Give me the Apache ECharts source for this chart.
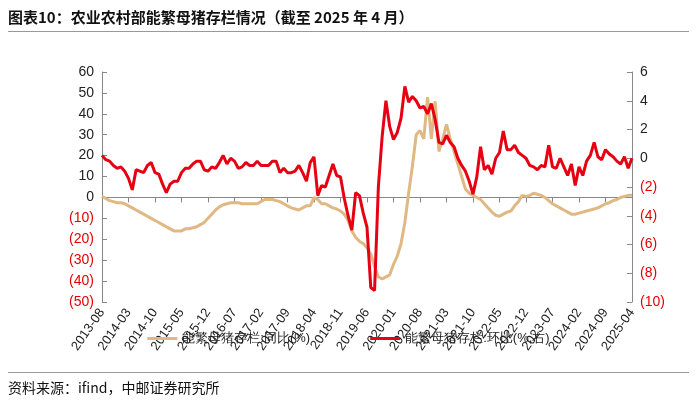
<!DOCTYPE html>
<html><head><meta charset="utf-8">
<script src="https://cdn.jsdelivr.net/npm/echarts@6/dist/echarts.min.js"></script>
<style>
body{margin:0;background:#fff;font-family:"Noto Sans CJK SC",sans-serif}
#title{position:absolute;left:8px;top:6px;font-size:15px;font-weight:bold;color:#111;width:681px;border-bottom:1px solid #999;padding-bottom:4px}
#src{position:absolute;left:8px;top:372px;font-size:14px;color:#111;width:681px;border-top:1px solid #999;padding-top:4px}
#main{position:absolute;left:0;top:0;width:697px;height:402px}
</style></head><body>
<div id="main"></div>
<div id="title">图表10：农业农村部能繁母猪存栏情况（截至 2025 年 4 月）</div>
<div id="src">资料来源：ifind，中邮证券研究所</div>
<script>
// 月份 2013-08 ~ 2025-04
var months = [];
for (var y = 2013, m = 8; y < 2025 || (y === 2025 && m <= 4); m++) {
	if (m > 12) { m = 1; y++; }
	if (y === 2025 && m > 4) break;
	months.push(y + '-' + (m < 10 ? '0' + m : m));
}
// 同比(%)，左轴
var yoy = [
	0.5,-0.5,-1.5,-2,-2.5,
	-2.5,-3,-4,-5,-6,-7,-8,-9,-10,-11,-12,-13,
	-14,-15,-16,-16,-16,-15,-15,-14.5,-14,-13,-12,-10,
	-8,-6,-4.5,-3.5,-3,-2.5,-2.5,-2.5,-3,-3,-3,-3,
	-3,-2,-1,-1,-1,-1.5,-2,-3,-4,-5,-5.5,-6,
	-5,-4,-4,0,-1,-3,-3,-4,-5,-5.5,-6.5,-8,
	-11,-16,-19,-21,-22,-24,-27,-33,-38,-39,-38,-37,
	-32,-28,-22,-12,2,15,30,32,28,48,28,46,22,28,35,28,22,16,10,4,2,1,
	0,-1,-3,-5,-7,-8.5,-9,-8,-7,-6.5,-4,-2,1,0.5,1,2,1.5,1,0,-1.5,-3,
	-4,-5,-6,-7,-8,-8,-7.5,-7,-6.5,-6,-5.5,-5,-4,-3,-2.5,-1.5,-1,0,0.5,1,1
];
// 环比(%)，右轴
var mom = [
	0.2,-0.1,-0.2,-0.5,-0.7,
	-0.6,-0.9,-1.4,-2.2,-0.8,-0.9,-1.0,-0.5,-0.3,-1.0,-1.1,-1.8,
	-2.4,-1.8,-1.6,-1.6,-1.0,-0.7,-0.7,-0.4,-0.2,-0.2,-0.8,-0.9,
	-0.6,-0.7,-0.3,0.2,-0.4,0.0,-0.2,-0.7,-0.6,-0.3,-0.5,-0.5,
	-0.2,-0.5,-0.5,-0.5,-0.2,-0.2,-1.0,-0.7,-1.0,-1.0,-0.9,-0.5,
	-1.0,-1.6,-0.3,0.1,-2.6,-1.9,-2.0,-1.2,-0.4,-1.2,-1.3,-2.8,
	-4.0,-5.0,-2.4,-2.6,-3.8,
	-4.8,-9.0,-9.2,-2.0,1.5,4.0,
	2.2,1.3,1.8,2.8,5.0,3.9,4.3,4.0,3.5,3.6,3.1,3.8,2.7,1.1,1.0,1.6,
	1.1,0.8,0,-0.5,-0.9,-1.6,-2.5,
	-1.3,0.8,-0.8,-0.5,-1.1,0,0.4,1.9,0.6,0.6,0.9,0.4,0.2,0,-0.5,-0.6,-0.8,-0.5,-0.6,
	0.9,-0.6,-0.7,0,-0.6,-1.2,-0.4,-1.9,-0.6,-1.2,-0.2,0.2,
	1.1,0.1,-0.1,0.6,0.3,0.1,-0.2,-0.4,0.1,-0.7,0
];
var names = ['能繁母猪存栏:同比(%)', '能繁母猪存栏:环比(%,右)'];

function fmt(v) { return v < 0 ? '(' + (-v) + ')' : '' + v; }
function neg(v) { return v < 0 ? '{n|' + fmt(v) + '}' : '{p|' + v + '}'; }
var rich = { n: { color: '#e60000', fontSize: 14, fontFamily: 'Arial' }, p: { color: '#222', fontSize: 14, fontFamily: 'Arial' } };

var myChart = echarts.init(document.getElementById('main'));
myChart.setOption({
	animation: false,
	grid: { left: 102, right: 65, top: 72, bottom: 100 },
	legend: {
		bottom: 52, itemGap: 60, itemWidth: 30, itemHeight: 3,
		icon: 'rect',
		textStyle: { fontSize: 13, color: '#222' },
		data: names
	},
	xAxis: {
		type: 'category', data: months, boundaryGap: false,
		axisLine: { onZero: true, onZeroAxisIndex: 0, lineStyle: { color: '#888' } },
		axisTick: { interval: 6, lineStyle: { color: '#888' } },
		axisLabel: { interval: 6, rotate: 55, color: '#222', fontSize: 13, fontFamily: 'Arial' }
	},
	yAxis: [{
		min: -50, max: 60, interval: 10,
		splitLine: { show: false },
		axisLine: { show: true, lineStyle: { color: '#888' } },
		axisTick: { show: true, inside: true },
		axisLabel: { formatter: neg, rich: rich }
	}, {
		min: -10, max: 6, interval: 2,
		splitLine: { show: false },
		axisLine: { show: true, lineStyle: { color: '#888' } },
		axisTick: { show: true, inside: true },
		axisLabel: { formatter: neg, rich: rich }
	}],
	series: [{
		name: names[0], type: 'line', data: yoy, yAxisIndex: 0,
		showSymbol: false, lineStyle: { color: '#e0b883', width: 3 }, itemStyle: { color: '#e0b883' }
	}, {
		name: names[1], type: 'line', data: mom, yAxisIndex: 1,
		showSymbol: false, lineStyle: { color: '#e60012', width: 3 }, itemStyle: { color: '#e60012' }
	}]
});
</script>
</body></html>
